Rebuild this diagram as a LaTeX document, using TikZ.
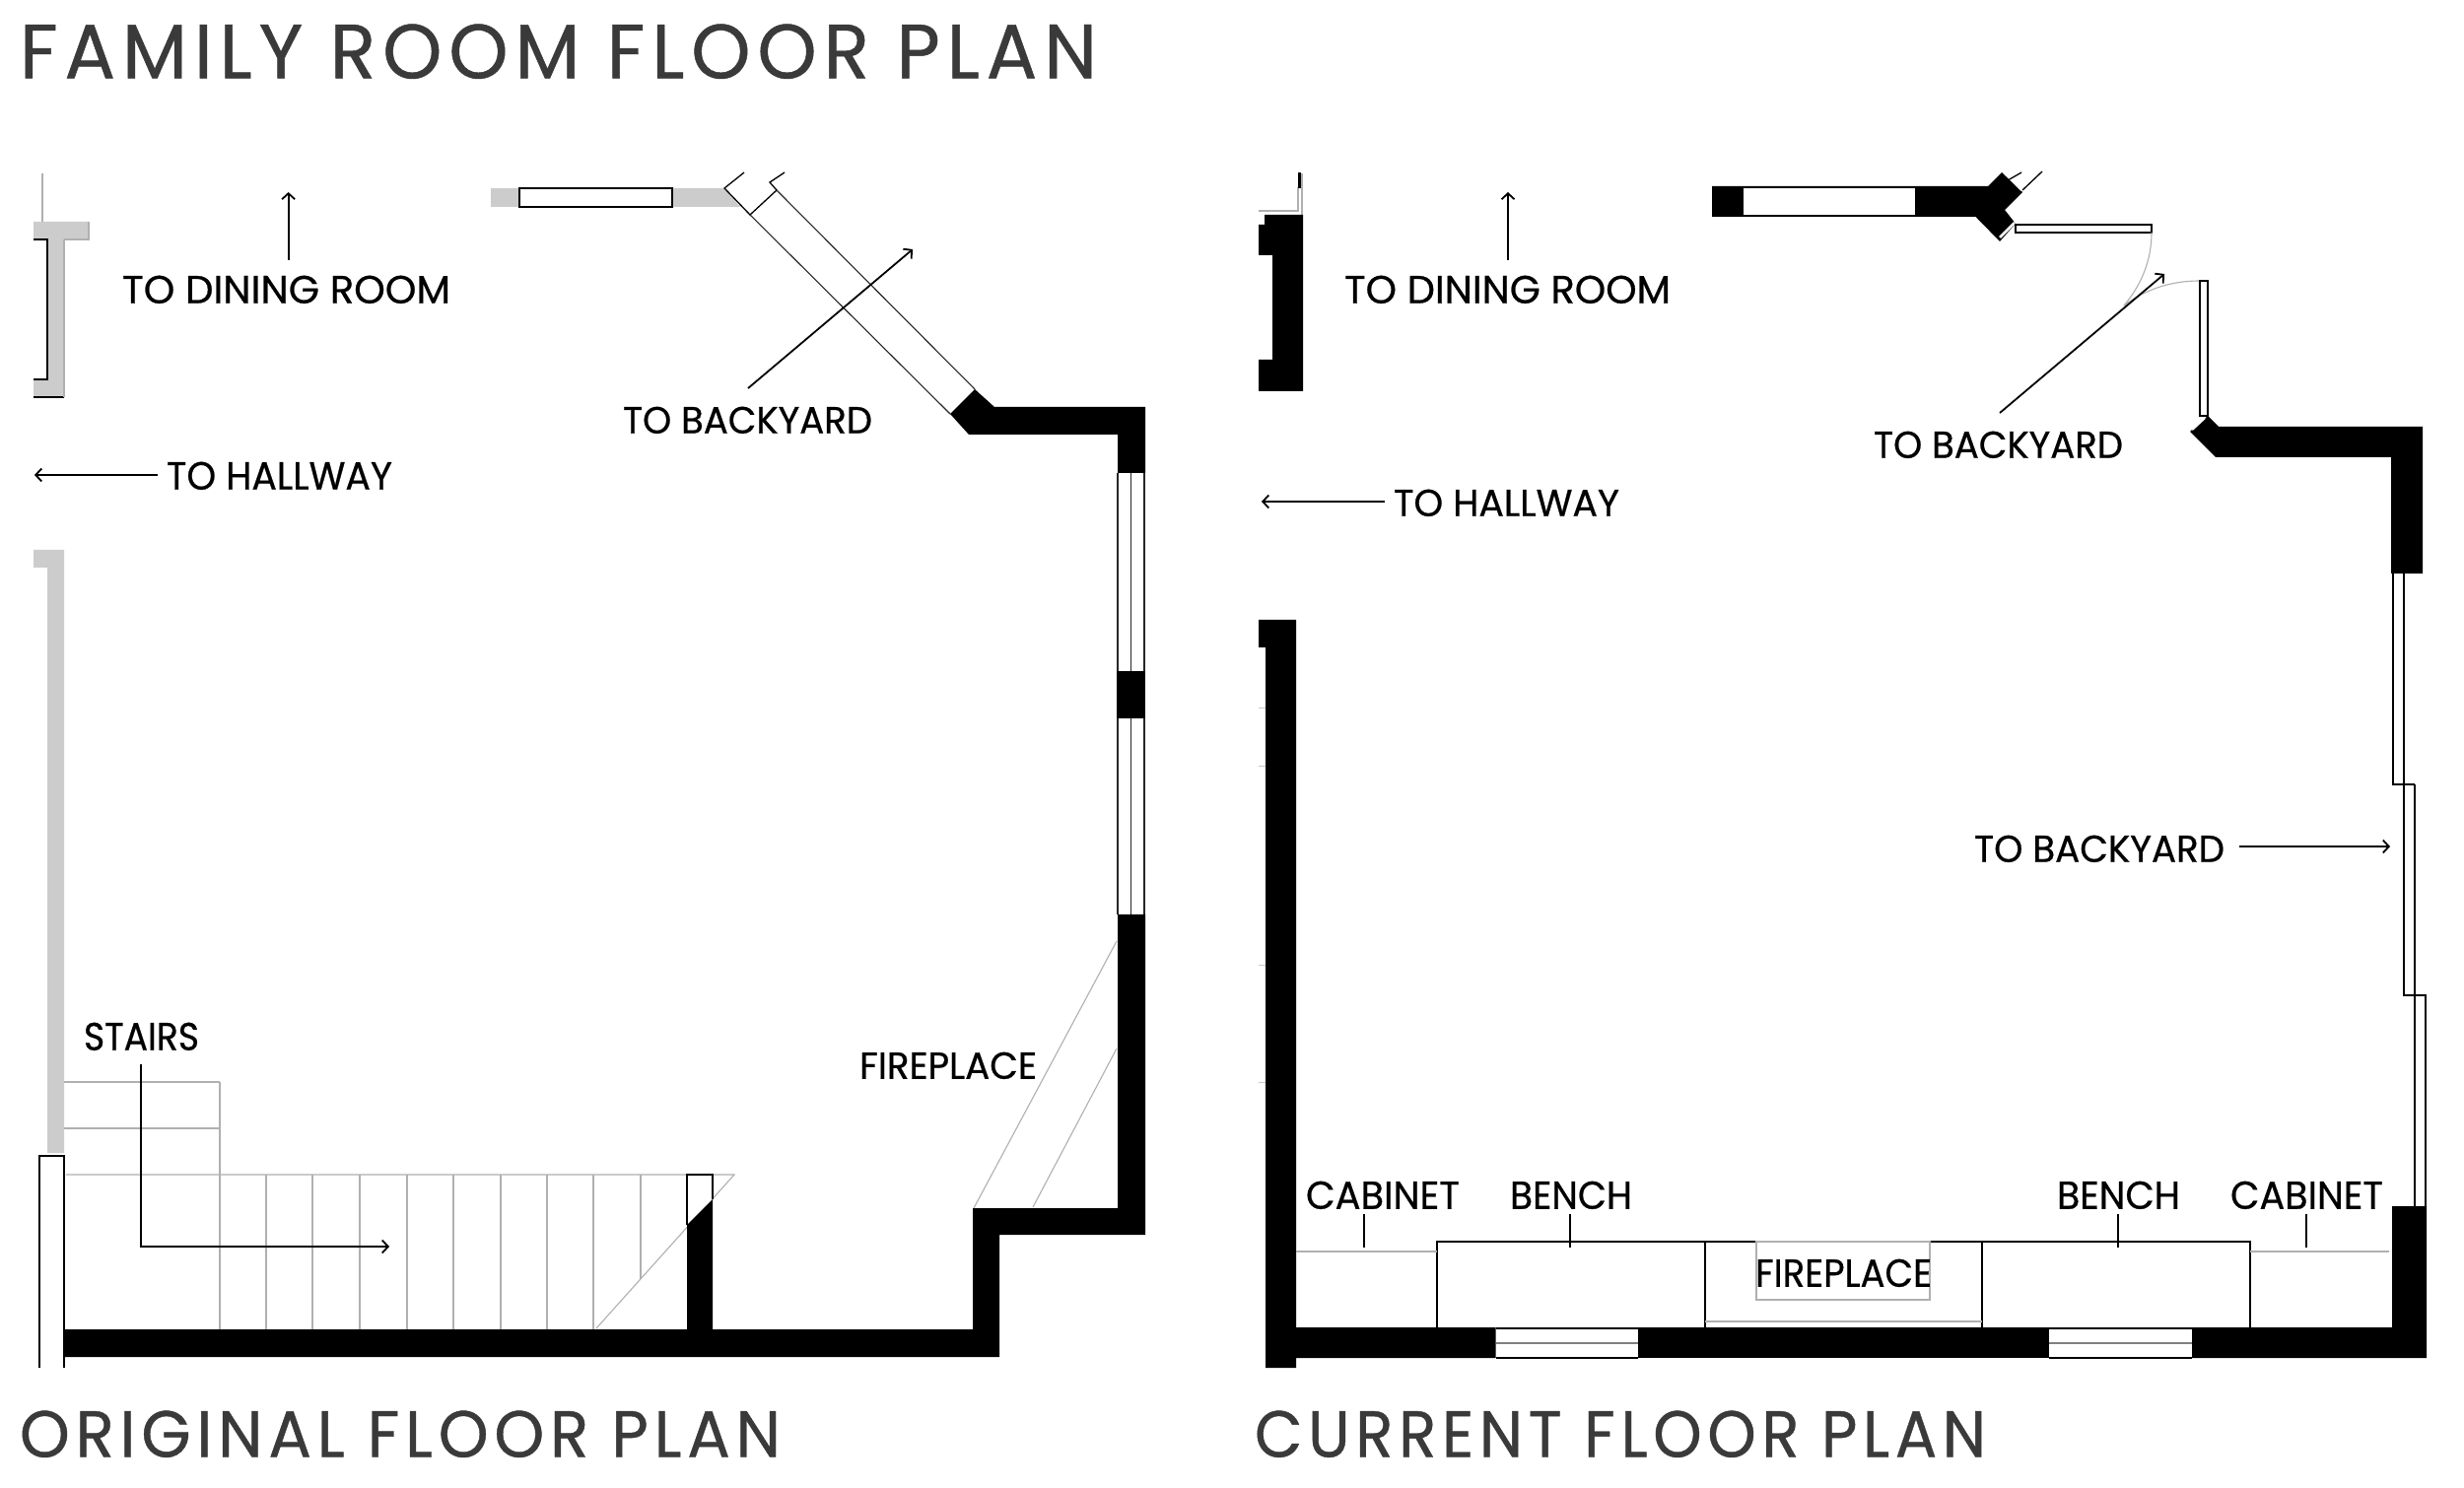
\documentclass[tikz,border=0pt]{standalone}
\usepackage{fontspec}
\usepackage{graphicx}
\usetikzlibrary{arrows.meta}
\setmainfont{Poppins}
\newfontfamily\labfont[FakeBold=0.6]{Poppins}
\newfontfamily\ttlfont[FakeBold=0.5,LetterSpace=9]{Poppins}
\newdimen\pxu \pxu=.01cm
\newcommand{\fitlab}[3]{\resizebox{\the\numexpr#1+4\relax\pxu}{#2\pxu}{\bfseries #3}}
\setmainfont[BoldFont={Poppins},BoldFeatures={FakeBold=0.6}]{Poppins}
\definecolor{wallgray}{HTML}{CCCCCC}
\definecolor{titlegray}{HTML}{3A3A3A}
\definecolor{thingray}{HTML}{B0B0B0}
\tikzset{
  lab/.style={anchor=south west,inner sep=0pt,outer sep=0pt,text=black,xshift=-.02cm},
  ttl/.style={anchor=south west,inner sep=0pt,outer sep=0pt,text=titlegray,xshift=-.02cm},
  wall/.style={fill=black,draw=none},
  gwall/.style={fill=wallgray,draw=none},
  fine/.style={draw=black,line width=.013cm},
  hair/.style={draw=black!85,line width=.011cm},
  med/.style={draw=black,line width=.022cm},
  thin gray/.style={draw=thingray,line width=.011cm},
  arr/.style={draw=black,line width=.018cm,-{Straight Barb[length=.06cm,width=.13cm,line width=.018cm]}},
  lead/.style={draw=black,line width=.018cm},
  win/.style={fill=white,draw=black,line width=.016cm},
}
\begin{document}
\begin{tikzpicture}[x=.01cm,y=-.01cm]
\useasboundingbox[fill=white] (0,0) rectangle (2500,1510);
% ---------- titles
\node[ttl] (t0) at (22,80) {\fitlab{1089}{55}{\addfontfeature{LetterSpace=9}FAMILY ROOM FLOOR PLAN}};
\node[ttl] (t1) at (22,1479) {\fitlab{768}{47}{\addfontfeature{LetterSpace=9}ORIGINAL FLOOR PLAN}};
\node[ttl] (t2) at (1275,1479) {\fitlab{738}{47}{\addfontfeature{LetterSpace=9}CURRENT FLOOR PLAN}};
% ================= ORIGINAL PLAN
\draw[thin gray] (43,176) -- (43,225);
\path[gwall] (34,225) -- (90,225) -- (90,243) -- (65,243) -- (65,403) -- (34,403) -- (34,385) -- (48,385) -- (48,243) -- (34,243) -- cycle;
\draw[fine] (34,243) -- (48,243) -- (48,385) -- (34,385);
\draw[fine] (34,403) -- (65,403);
\draw[thin gray] (65,243) -- (65,403);
\draw[thin gray] (90,225) -- (90,243) -- (65,243);
\path[gwall] (34,558) -- (65,558) -- (65,1170) -- (48,1170) -- (48,576) -- (34,576) -- cycle;
\path[gwall] (498,191) rectangle (527,210);
\path[gwall] (682,191) -- (735,191) -- (751,210) -- (682,210) -- cycle;
\draw[win] (527,191) rectangle (682,210);
% angled door
\draw[fine] (755,175) -- (735,191) -- (761,218) -- (788,193) -- (781,185) -- (796,175);
\draw[hair] (761,218) -- (964,420);
\draw[hair] (788,193) -- (989,395);
\path[wall] (989,395) -- (1009,413) -- (1162,413) -- (1162,480) -- (1134,480) -- (1134,441) -- (983,441) -- (964,420) -- cycle;
\draw[hair] (1134,480) -- (1134,681) (1147.5,480) -- (1147.5,681) (1161,480) -- (1161,681);
\path[wall] (1133,681) rectangle (1162,729);
\draw[hair] (1134,729) -- (1134,928) (1147.5,729) -- (1147.5,928) (1161,729) -- (1161,928);
\path[wall] (1134,928) -- (1162,928) -- (1162,1253) -- (1014,1253) -- (1014,1377) -- (65,1377) -- (65,1349) -- (987,1349) -- (987,1226) -- (1134,1226) -- cycle;
% stairs
\draw[draw=thingray,line width=.02cm] (65,1098) -- (223,1098);
\draw[thin gray] (65,1145) -- (223,1145);
\draw[thin gray] (223,1098) -- (223,1192);
\draw[thin gray] (67,1192) -- (745,1192) -- (605,1348);
\foreach \sx in {223,270,317,365,413,460,508,555,602} \draw[thin gray] (\sx,1192) -- (\sx,1349);
\draw[thin gray] (650,1192) -- (650,1298);
\draw[fine,fill=white] (697,1243) -- (697,1192) -- (723,1192) -- (723,1217);
\draw[draw=black,line width=.026cm] (697,1192) -- (723,1192);
\path[wall] (697,1243) -- (723,1217) -- (723,1349) -- (697,1349) -- cycle;
% hall door column
\draw[fine] (40,1388) -- (40,1173) -- (65,1173) -- (65,1388);
\draw[draw=black,line width=.026cm] (40,1173) -- (65,1173);
% fireplace
\draw[thin gray] (988,1226) -- (1133,955);
\draw[thin gray] (1048,1225) -- (1133,1064);
% labels
\node[lab] (a1) at (126,308) {\fitlab{329}{28}{TO DINING ROOM}};
\node[lab] (a2) at (171,497) {\fitlab{225}{28}{TO HALLWAY}};
\node[lab] (a3) at (634,440) {\fitlab{249}{27}{TO BACKYARD}};
\node[lab] (a4) at (87,1066) {\fitlab{113}{28}{STAIRS}};
\node[lab] (a5) at (874,1095) {\fitlab{176}{27}{FIREPLACE}};
\coordinate (a1s) at (292.6,264); \coordinate (a1e) at (292.6,195);
\coordinate (a2s) at (160,482); \coordinate (a2e) at (35,482);
\coordinate (a3s) at (759,394); \coordinate (a3e) at (926,253);
\coordinate (a4s) at (143,1080); \coordinate (a4m) at (143,1265); \coordinate (a4e) at (395,1265);
\draw[arr] (a1s) -- (a1e);
\draw[arr] (a2s) -- (a2e);
\draw[arr] (a3s) -- (a3e);
\draw[arr] (a4s) -- (a4m) -- (a4e);
% ================= CURRENT PLAN
\draw[thin gray] (1321,176) -- (1321,218);
\draw[thin gray] (1277,214) -- (1317,214) -- (1317,190);
\draw[draw=black,line width=.03cm] (1318,175) -- (1318,191);
\path[wall] (1283,218) -- (1322,218) -- (1322,397) -- (1277,397) -- (1277,365) -- (1291,365) -- (1291,259) -- (1277,259) -- (1277,228) -- (1283,228) -- cycle;
% window and diagonal pier
\path[wall] (1737,189) -- (2017,189) -- (2031,175) -- (2052,195) -- (2034,213) -- (2045,227) -- (2029,245) -- (2004.5,220) -- (1737,220) -- cycle;
\path[fill=white] (1769,191.5) rectangle (1943,218);
\draw[draw=white,line width=.026cm] (2029,241) -- (2044,226);
\draw[draw=white,line width=.02cm] (2035,177) -- (2051,193);
\draw[fine] (2037,183) -- (2051,175);
\draw[fine] (2052,193) -- (2072,174);
\draw[win] (2045,228) rectangle (2183,236);
\draw[thin gray] (2183,236) .. controls (2183,265) and (2172,290) .. (2155,310);
\draw[thin gray] (2155,310) .. controls (2175,295) and (2200,285) .. (2232,285);
\draw[win] (2232,285) rectangle (2240,422);
\draw[draw=black,line width=.026cm] (2232,285) -- (2240,285);
\path[wall] (2240,422) -- (2251,433) -- (2458,433) -- (2458,582) -- (2426,582) -- (2426,464) -- (2248,464) -- (2222,438) -- cycle;
\draw[draw=white,line width=.024cm] (2224,436) -- (2237,424);
% right sliding doors
\draw[fine] (2428,582) -- (2428,796) -- (2450,796);
\draw[fine] (2439,582) -- (2439,1010) -- (2461,1010) -- (2461,1225);
\draw[fine] (2450,796) -- (2450,1225);
% left wall
\path[wall] (1277,629) -- (1315,629) -- (1315,1347) -- (1517.5,1347) -- (1517.5,1378) -- (1315,1378) -- (1315,1388) -- (1284,1388) -- (1284,657) -- (1277,657) -- cycle;
\foreach \ty in {719,778,980,1098} \draw[draw=thingray!70,line width=.01cm] (1277,\ty) -- (1284,\ty);
% bottom wall with windows
\path[wall] (1662,1347) rectangle (2079,1378);
\path[wall] (2224,1347) -- (2427,1347) -- (2427,1224) -- (2462,1224) -- (2462,1378) -- (2224,1378) -- cycle;
\draw[fine] (1517.5,1348) -- (1662,1348) (1517.5,1378) -- (1662,1378);
\draw[draw=gray,line width=.014cm] (1517.5,1363) -- (1662,1363);
\draw[fine] (2079,1348) -- (2224,1348) (2079,1378) -- (2224,1378);
\draw[draw=gray,line width=.014cm] (2079,1363) -- (2224,1363);
% built-ins
\draw[med] (1458,1347) -- (1458,1260) -- (1784,1260);
\draw[med] (1730,1260) -- (1730,1347);
\draw[med] (1958,1260) -- (2283,1260) -- (2283,1347);
\draw[med] (2011,1260) -- (2011,1347);
\draw[thin gray] (1782,1260) -- (1958,1260) -- (1958,1319) -- (1782,1319) -- cycle;
\draw[thin gray] (1730,1341) -- (2011,1341);
\draw[thin gray] (1315,1270) -- (1458,1270);
\draw[thin gray] (2283,1270) -- (2424,1270);
% labels
\node[lab] (b1) at (1366,308) {\fitlab{327}{28}{TO DINING ROOM}};
\node[lab] (b2) at (1416,524) {\fitlab{225}{27}{TO HALLWAY}};
\node[lab] (b3) at (1903,465) {\fitlab{249}{27}{TO BACKYARD}};
\node[lab] (b4) at (2005,875) {\fitlab{250}{27}{TO BACKYARD}};
\node[lab] (b5) at (1327,1227) {\fitlab{152}{28}{CABINET}};
\node[lab] (b6) at (1534,1227) {\fitlab{120}{28}{BENCH}};
\node[lab] (b7) at (1783,1306) {\fitlab{175}{28}{FIREPLACE}};
\node[lab] (b8) at (2089,1227) {\fitlab{121}{28}{BENCH}};
\node[lab] (b9) at (2265,1227) {\fitlab{151}{28}{CABINET}};
\coordinate (b1s) at (1530,264); \coordinate (b1e) at (1530,195);
\coordinate (b2s) at (1405,509); \coordinate (b2e) at (1280,509);
\coordinate (b3s) at (2029,419); \coordinate (b3e) at (2196,278);
\coordinate (b4s) at (2272,859); \coordinate (b4e) at (2425,859);
\draw[arr] (b1s) -- (b1e);
\draw[arr] (b2s) -- (b2e);
\draw[arr] (b3s) -- (b3e);
\draw[arr] (b4s) -- (b4e);
\coordinate (c1s) at (1384,1232); \coordinate (c1e) at (1384,1266);
\coordinate (c2s) at (1593,1232); \coordinate (c2e) at (1593,1266);
\coordinate (c3s) at (2149,1232); \coordinate (c3e) at (2149,1266);
\coordinate (c4s) at (2340,1232); \coordinate (c4e) at (2340,1266);
\draw[lead] (c1s) -- (c1e);
\draw[lead] (c2s) -- (c2e);
\draw[lead] (c3s) -- (c3e);
\draw[lead] (c4s) -- (c4e);
\end{tikzpicture}
\end{document}
